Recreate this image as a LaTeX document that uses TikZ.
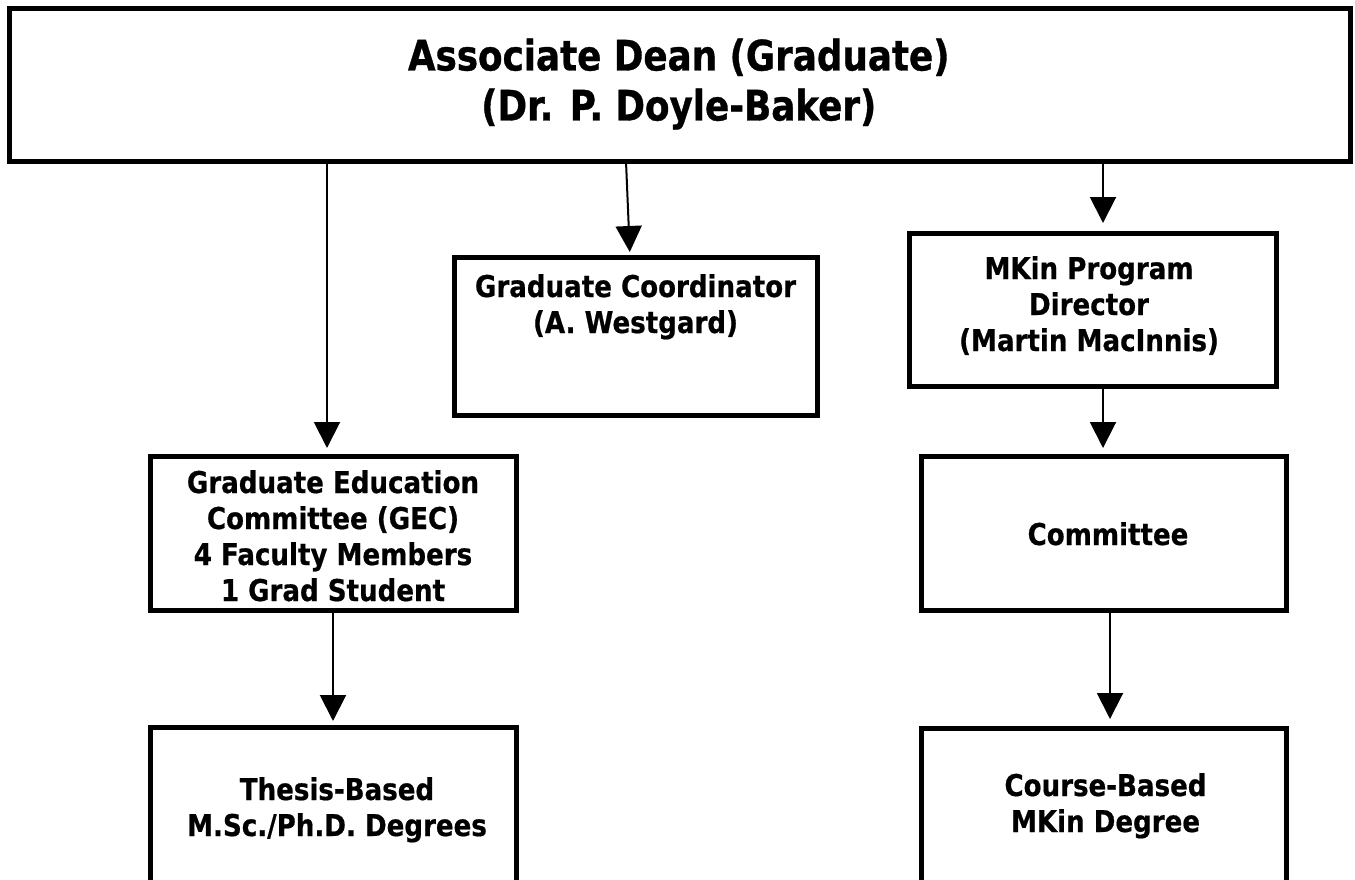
\documentclass[tikz,border=0pt]{standalone}
\usepackage{fontspec}
\newfontfamily\tah{DejaVu Sans}[FakeStretch=0.87,FakeBold=0.6]
\newfontfamily\tahttl{DejaVu Sans}[FakeStretch=0.85,FakeBold=0.8]
\usetikzlibrary{arrows.meta,calc}
\newcommand{\stacklines}[1]{\begin{tabular}[t]{@{}c@{}}#1\end{tabular}}
\begin{document}
\begin{tikzpicture}[x=1pt,y=-1pt,
  box/.style={draw=black,line width=5pt,fill=white,inner sep=0pt,outer sep=0pt,rectangle},
  lbl/.style={inner sep=0pt,outer sep=0pt,anchor=base,font=\tah\bfseries\fontsize{30}{36}\selectfont},
  ttl/.style={inner sep=0pt,outer sep=0pt,anchor=base,font=\tahttl\bfseries\fontsize{42}{50}\selectfont},
  conn/.style={draw=black,line width=2pt,-{Triangle[length=26pt,width=26pt]}}]
\path[use as bounding box,clip] (0,0) rectangle (1355,880);
\fill[white] (0,0) rectangle (1355,880);
% boxes
\node[box,minimum width=1340.5pt,minimum height=153pt] (dean) at (679.75,85) {};
\node[box,minimum width=363pt,minimum height=158pt] (coord) at (635.5,336) {};
\node[box,minimum width=367pt,minimum height=153pt] (mkin) at (1092.5,309.5) {};
\node[box,minimum width=366pt,minimum height=154pt] (gec) at (333,533) {};
\node[box,minimum width=365pt,minimum height=154pt] (comm) at (1104,533.5) {};
\node[box,minimum width=366pt,minimum height=193pt] (thesis) at (333,823.5) {};
\node[box,minimum width=365pt,minimum height=192pt] (course) at (1104,824) {};
% texts
\node[ttl] (deant) at ($(dean.north)+(-1,62)$) {\stacklines{Associate Dean (Graduate)\\(Dr. P. Doyle-Baker)}};
\node[lbl] (coordt) at ($(coord.north)+(0,40)$) {\stacklines{Graduate Coordinator\\(A. Westgard)}};
\node[lbl] (mkint) at ($(mkin.north)+(-3.5,46)$) {\stacklines{MKin Program\\Director\\(Martin MacInnis)}};
\node[lbl] (gect) at ($(gec.north)+(0,37)$) {\stacklines{Graduate Education\\Committee (GEC)\\4 Faculty Members\\1 Grad Student}};
\node[lbl] (thesist) at ($(thesis.north)+(4,73)$) {\stacklines{Thesis-Based\\M.Sc./Ph.D. Degrees}};
\node[lbl] (commt) at ($(comm.north)+(4,88.5)$) {\stacklines{Committee}};
\node[lbl] (courset) at ($(course.north)+(1.5,68)$) {\stacklines{Course-Based\\MKin Degree}};
% connectors
\draw[conn,shorten >=8pt] ([xshift=-6pt]gec.north |- dean.south) -- ([xshift=-6pt]gec.north);
\draw[conn,shorten >=5pt] ([xshift=-9.5pt]coord.north |- dean.south) -- ([xshift=-5.5pt]coord.north);
\draw[conn,shorten >=10pt] ([xshift=10.5pt]mkin.north |- dean.south) -- ([xshift=10.5pt]mkin.north);
\draw[conn,shorten >=8.5pt] ([xshift=-1pt]comm.north |- mkin.south) -- ([xshift=-1pt]comm.north);
\draw[conn,shorten >=6pt] (gec.south) -- (thesis.north);
\draw[conn,shorten >=9pt] ([xshift=6pt]course.north |- comm.south) -- ([xshift=6pt]course.north);
\end{tikzpicture}
\end{document}
